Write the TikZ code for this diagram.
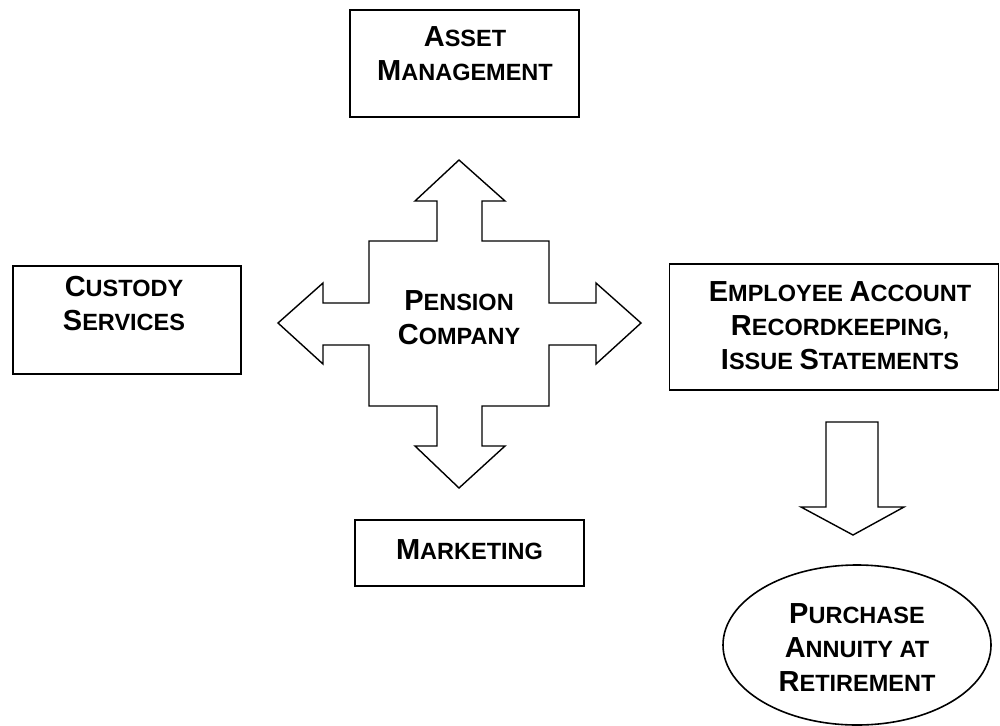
\documentclass[tikz,border=0pt]{standalone}
\usepackage{fontspec}
\setmainfont{Liberation Sans}
\usetikzlibrary{calc,shapes.geometric}
% capital initial followed by reduced capitals
\newcommand\Ini[1]{{\fontsize{29}{34}\selectfont #1}}
\begin{document}
\begin{tikzpicture}[x=1pt,y=-1pt,
  outline/.style={draw=black, line width=1.6pt, line join=miter},
  box/.style={outline, rectangle, inner sep=0pt},
  oval/.style={outline, ellipse, inner sep=0pt},
  txt/.style={align=center, inner sep=0pt,
    font=\fontsize{23.5}{34}\selectfont\bfseries}]
\useasboundingbox (0,0) rectangle (1000,725);

% four-way block arrow around the central company
\draw[outline, line width=1.4pt]
  (459,160) -- (505,201) -- (482,201) -- (482,241) -- (549,241) -- (549,303)
  -- (596,303) -- (596,283) -- (641,323) -- (596,364) -- (596,345) -- (549,345)
  -- (549,406) -- (482,406) -- (482,446) -- (505,446) -- (459,488) -- (415,446)
  -- (437,446) -- (437,406) -- (369,406) -- (369,345) -- (323,345) -- (323,364)
  -- (278,323) -- (323,283) -- (323,303) -- (369,303) -- (369,241) -- (437,241)
  -- (437,201) -- (415,201) -- cycle;
\node[txt] (pension) at (459,318) {\Ini{P}ENSION\\\Ini{C}OMPANY};

% surrounding service boxes
\node[box, minimum width=229pt, minimum height=107pt] (asset) at (464.5,63.5) {};
\node[txt] (assettxt) at (465,54) {\Ini{A}SSET\\\Ini{M}ANAGEMENT};

\node[box, minimum width=228pt, minimum height=108pt] (custody) at (126.7,320) {};
\node[txt] (custodytxt) at (124,304) {\Ini{C}USTODY\\\Ini{S}ERVICES};

\node[box, minimum width=229pt, minimum height=66pt] (marketing) at (469.5,553) {};
\node[txt] (marketingtxt) at (469.5,550) {\Ini{M}ARKETING};

\node[box, minimum width=329pt, minimum height=126pt] (employee) at (834,327) {};
\node[txt] (employeetxt) at (840,326) {\Ini{E}MPLOYEE \Ini{A}CCOUNT\\\Ini{R}ECORDKEEPING,\\\Ini{I}SSUE \Ini{S}TATEMENTS};

% down block arrow towards the annuity
\draw[outline, line width=1.4pt]
  (826,422) -- (878,422) -- (878,507) -- (904,507) -- (853,535)
  -- (801,507) -- (826,507) -- cycle;

\begin{scope}
\clip (0,0) rectangle (1000,725);
\node[oval, minimum width=268pt, minimum height=160pt] (annuity) at (857,645) {};
\end{scope}
\node[txt] (annuitytxt) at (857,648) {\Ini{P}URCHASE\\\Ini{A}NNUITY AT\\\Ini{R}ETIREMENT};
\end{tikzpicture}
\end{document}
